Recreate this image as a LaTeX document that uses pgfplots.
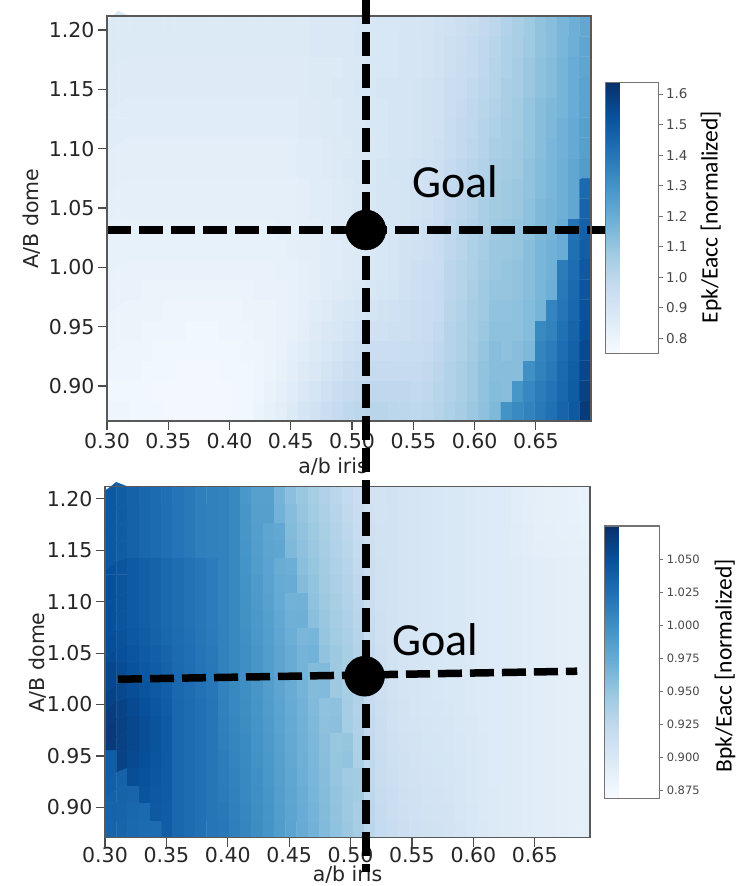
\documentclass[border=0pt]{standalone}
\usepackage{pgfplots}
\usepackage{pgfplotstable}
\usepackage{fontspec}
\setmainfont{DejaVu Sans}
\newfontfamily\goalfont{Carlito}
\pgfplotsset{compat=1.18}
\pgfplotsset{colormap={blues}{rgb255=(247,251,255) rgb255=(222,235,247) rgb255=(198,219,239) rgb255=(158,202,225) rgb255=(107,174,214) rgb255=(66,146,198) rgb255=(33,113,181) rgb255=(8,81,156) rgb255=(8,48,107)}}

% Epk/Eacc on a 43 x 20 grid (a/b iris across, A/B dome up), bottom row first
\pgfplotstableread[row sep=\\]{
v\\
0.79\\0.79\\0.78\\0.78\\0.78\\0.77\\0.77\\0.77\\0.77\\0.77\\0.77\\0.78\\0.78\\0.80\\0.82\\0.84\\0.87\\0.90\\0.92\\0.95\\0.97\\0.99\\1.00\\1.01\\1.01\\1.00\\1.00\\0.99\\1.00\\1.02\\1.04\\1.06\\1.09\\1.12\\1.15\\1.30\\1.33\\1.36\\1.39\\1.42\\1.46\\1.50\\1.60\\
0.78\\0.78\\0.78\\0.78\\0.77\\0.77\\0.77\\0.77\\0.77\\0.77\\0.77\\0.78\\0.78\\0.79\\0.81\\0.83\\0.85\\0.88\\0.90\\0.93\\0.95\\0.97\\0.98\\0.99\\0.99\\0.99\\0.99\\0.98\\0.99\\1.01\\1.03\\1.05\\1.08\\1.11\\1.14\\1.13\\1.29\\1.34\\1.38\\1.41\\1.45\\1.49\\1.58\\
0.79\\0.79\\0.79\\0.78\\0.78\\0.78\\0.77\\0.77\\0.77\\0.77\\0.78\\0.78\\0.78\\0.79\\0.80\\0.82\\0.84\\0.86\\0.88\\0.91\\0.93\\0.95\\0.96\\0.97\\0.97\\0.97\\0.97\\0.97\\0.98\\1.00\\1.03\\1.05\\1.08\\1.11\\1.13\\1.13\\1.13\\1.31\\1.36\\1.39\\1.44\\1.48\\1.56\\
0.79\\0.79\\0.79\\0.79\\0.78\\0.78\\0.78\\0.78\\0.78\\0.78\\0.78\\0.78\\0.79\\0.79\\0.80\\0.81\\0.83\\0.85\\0.87\\0.89\\0.91\\0.93\\0.94\\0.95\\0.95\\0.95\\0.96\\0.96\\0.97\\0.99\\1.02\\1.04\\1.07\\1.10\\1.13\\1.12\\1.13\\1.15\\1.35\\1.38\\1.43\\1.47\\1.55\\
0.80\\0.80\\0.80\\0.79\\0.79\\0.79\\0.79\\0.78\\0.78\\0.78\\0.79\\0.79\\0.79\\0.80\\0.80\\0.81\\0.82\\0.84\\0.86\\0.88\\0.89\\0.91\\0.92\\0.93\\0.93\\0.94\\0.94\\0.95\\0.96\\0.98\\1.02\\1.04\\1.06\\1.09\\1.12\\1.12\\1.12\\1.14\\1.33\\1.36\\1.42\\1.46\\1.53\\
0.80\\0.80\\0.80\\0.80\\0.80\\0.79\\0.79\\0.79\\0.79\\0.79\\0.79\\0.79\\0.80\\0.80\\0.80\\0.81\\0.82\\0.83\\0.85\\0.86\\0.88\\0.89\\0.90\\0.91\\0.92\\0.93\\0.94\\0.95\\0.96\\0.97\\1.01\\1.03\\1.06\\1.08\\1.11\\1.11\\1.12\\1.14\\1.17\\1.35\\1.40\\1.45\\1.52\\
0.81\\0.81\\0.81\\0.80\\0.80\\0.80\\0.80\\0.80\\0.80\\0.80\\0.80\\0.80\\0.80\\0.81\\0.81\\0.81\\0.82\\0.83\\0.84\\0.85\\0.86\\0.87\\0.88\\0.89\\0.90\\0.91\\0.93\\0.94\\0.95\\0.97\\1.00\\1.02\\1.05\\1.08\\1.10\\1.10\\1.11\\1.13\\1.16\\1.19\\1.39\\1.44\\1.51\\
0.81\\0.81\\0.81\\0.81\\0.81\\0.81\\0.81\\0.81\\0.81\\0.81\\0.81\\0.81\\0.81\\0.81\\0.81\\0.82\\0.82\\0.83\\0.84\\0.85\\0.85\\0.86\\0.87\\0.88\\0.89\\0.90\\0.92\\0.94\\0.95\\0.96\\1.00\\1.02\\1.04\\1.07\\1.09\\1.10\\1.11\\1.13\\1.16\\1.18\\1.38\\1.43\\1.50\\
0.82\\0.82\\0.82\\0.82\\0.82\\0.82\\0.82\\0.82\\0.82\\0.82\\0.82\\0.82\\0.82\\0.82\\0.82\\0.82\\0.83\\0.84\\0.84\\0.85\\0.85\\0.86\\0.87\\0.88\\0.89\\0.90\\0.92\\0.93\\0.94\\0.96\\0.99\\1.01\\1.04\\1.06\\1.09\\1.09\\1.10\\1.13\\1.16\\1.18\\1.20\\1.42\\1.48\\
0.82\\0.82\\0.82\\0.82\\0.82\\0.82\\0.82\\0.82\\0.82\\0.82\\0.82\\0.82\\0.82\\0.82\\0.82\\0.83\\0.83\\0.84\\0.84\\0.85\\0.86\\0.86\\0.87\\0.88\\0.89\\0.90\\0.91\\0.93\\0.94\\0.95\\0.99\\1.01\\1.03\\1.05\\1.08\\1.09\\1.10\\1.12\\1.15\\1.17\\1.20\\1.41\\1.47\\
0.83\\0.83\\0.83\\0.83\\0.83\\0.83\\0.83\\0.83\\0.83\\0.83\\0.83\\0.83\\0.83\\0.83\\0.83\\0.83\\0.83\\0.84\\0.85\\0.85\\0.86\\0.87\\0.88\\0.89\\0.90\\0.90\\0.91\\0.92\\0.93\\0.95\\0.98\\1.00\\1.02\\1.05\\1.07\\1.08\\1.09\\1.12\\1.15\\1.17\\1.19\\1.22\\1.46\\
0.83\\0.83\\0.83\\0.83\\0.83\\0.83\\0.83\\0.83\\0.83\\0.83\\0.83\\0.83\\0.83\\0.83\\0.83\\0.83\\0.83\\0.84\\0.85\\0.85\\0.86\\0.87\\0.88\\0.89\\0.90\\0.90\\0.91\\0.92\\0.93\\0.94\\0.98\\0.99\\1.02\\1.04\\1.06\\1.08\\1.09\\1.11\\1.14\\1.16\\1.19\\1.22\\1.44\\
0.84\\0.84\\0.84\\0.84\\0.84\\0.84\\0.84\\0.84\\0.84\\0.84\\0.84\\0.84\\0.84\\0.84\\0.84\\0.84\\0.84\\0.85\\0.85\\0.86\\0.87\\0.88\\0.88\\0.89\\0.90\\0.91\\0.91\\0.92\\0.93\\0.94\\0.97\\0.99\\1.01\\1.03\\1.06\\1.07\\1.08\\1.11\\1.14\\1.16\\1.19\\1.22\\1.26\\
0.84\\0.84\\0.84\\0.84\\0.84\\0.84\\0.84\\0.84\\0.84\\0.84\\0.84\\0.84\\0.84\\0.84\\0.84\\0.84\\0.84\\0.85\\0.85\\0.86\\0.87\\0.87\\0.88\\0.88\\0.89\\0.90\\0.90\\0.91\\0.92\\0.94\\0.96\\0.98\\1.00\\1.02\\1.05\\1.06\\1.08\\1.10\\1.13\\1.16\\1.18\\1.21\\1.25\\
0.85\\0.85\\0.85\\0.85\\0.85\\0.85\\0.85\\0.85\\0.85\\0.85\\0.85\\0.85\\0.85\\0.85\\0.85\\0.85\\0.85\\0.86\\0.86\\0.87\\0.87\\0.88\\0.88\\0.89\\0.89\\0.90\\0.90\\0.91\\0.92\\0.93\\0.96\\0.98\\0.99\\1.02\\1.04\\1.06\\1.07\\1.10\\1.13\\1.15\\1.18\\1.21\\1.25\\
0.85\\0.85\\0.85\\0.85\\0.85\\0.85\\0.85\\0.85\\0.85\\0.85\\0.85\\0.85\\0.85\\0.85\\0.85\\0.85\\0.85\\0.86\\0.86\\0.87\\0.87\\0.88\\0.88\\0.89\\0.89\\0.90\\0.90\\0.91\\0.92\\0.93\\0.95\\0.97\\0.99\\1.01\\1.03\\1.05\\1.07\\1.10\\1.13\\1.15\\1.17\\1.20\\1.24\\
0.86\\0.86\\0.86\\0.86\\0.86\\0.86\\0.86\\0.86\\0.86\\0.86\\0.86\\0.86\\0.86\\0.86\\0.86\\0.86\\0.86\\0.86\\0.87\\0.87\\0.88\\0.88\\0.89\\0.89\\0.90\\0.90\\0.90\\0.91\\0.92\\0.93\\0.95\\0.96\\0.98\\1.00\\1.02\\1.05\\1.06\\1.09\\1.12\\1.14\\1.17\\1.20\\1.24\\
0.86\\0.86\\0.86\\0.86\\0.86\\0.86\\0.86\\0.86\\0.86\\0.86\\0.86\\0.86\\0.86\\0.86\\0.86\\0.86\\0.86\\0.86\\0.87\\0.87\\0.87\\0.88\\0.88\\0.89\\0.89\\0.89\\0.90\\0.90\\0.91\\0.92\\0.94\\0.96\\0.97\\0.99\\1.02\\1.04\\1.06\\1.09\\1.12\\1.14\\1.17\\1.20\\1.23\\
0.87\\0.87\\0.87\\0.87\\0.87\\0.87\\0.87\\0.87\\0.87\\0.87\\0.87\\0.87\\0.87\\0.87\\0.87\\0.87\\0.87\\0.87\\0.88\\0.88\\0.88\\0.88\\0.89\\0.89\\0.89\\0.89\\0.90\\0.90\\0.91\\0.92\\0.94\\0.95\\0.97\\0.99\\1.01\\1.04\\1.05\\1.08\\1.11\\1.13\\1.16\\1.19\\1.23\\
0.87\\0.87\\0.87\\0.87\\0.87\\0.87\\0.87\\0.87\\0.87\\0.87\\0.87\\0.87\\0.87\\0.87\\0.87\\0.87\\0.87\\0.87\\0.88\\0.88\\0.88\\0.88\\0.89\\0.89\\0.89\\0.89\\0.90\\0.90\\0.91\\0.92\\0.93\\0.945\\0.96\\0.98\\1.00\\1.03\\1.05\\1.08\\1.11\\1.13\\1.16\\1.19\\1.22\\
}\epkdata

% Bpk/Eacc on the same grid
\pgfplotstableread[row sep=\\]{
v\\
1.034\\1.033\\1.031\\1.029\\1.028\\1.040\\1.032\\1.028\\1.024\\1.020\\1.018\\1.013\\1.008\\1.002\\0.996\\0.989\\0.982\\0.975\\0.968\\0.961\\0.954\\0.948\\0.941\\0.928\\0.921\\0.917\\0.914\\0.912\\0.910\\0.909\\0.908\\0.904\\0.901\\0.899\\0.897\\0.895\\0.894\\0.893\\0.892\\0.891\\0.890\\0.889\\0.888\\
1.035\\1.034\\1.032\\1.030\\1.043\\1.040\\1.032\\1.028\\1.024\\1.020\\1.017\\1.012\\1.007\\1.001\\0.995\\0.988\\0.981\\0.974\\0.967\\0.960\\0.953\\0.947\\0.940\\0.927\\0.920\\0.916\\0.913\\0.911\\0.909\\0.908\\0.907\\0.903\\0.901\\0.898\\0.897\\0.895\\0.894\\0.893\\0.892\\0.891\\0.890\\0.889\\0.888\\
1.036\\1.035\\1.033\\1.047\\1.044\\1.041\\1.032\\1.028\\1.024\\1.020\\1.016\\1.011\\1.006\\1.000\\0.994\\0.987\\0.980\\0.973\\0.966\\0.959\\0.952\\0.946\\0.944\\0.926\\0.919\\0.915\\0.912\\0.910\\0.908\\0.907\\0.906\\0.903\\0.900\\0.898\\0.897\\0.895\\0.894\\0.893\\0.892\\0.891\\0.890\\0.889\\0.888\\
1.038\\1.036\\1.052\\1.049\\1.045\\1.041\\1.032\\1.028\\1.024\\1.020\\1.015\\1.010\\1.005\\0.999\\0.993\\0.986\\0.979\\0.972\\0.965\\0.958\\0.951\\0.945\\0.943\\0.925\\0.918\\0.914\\0.911\\0.909\\0.907\\0.906\\0.905\\0.902\\0.900\\0.898\\0.896\\0.895\\0.894\\0.893\\0.892\\0.891\\0.890\\0.889\\0.888\\
1.040\\1.060\\1.055\\1.051\\1.046\\1.042\\1.032\\1.028\\1.024\\1.020\\1.014\\1.009\\1.004\\0.998\\0.992\\0.985\\0.978\\0.971\\0.964\\0.957\\0.950\\0.952\\0.937\\0.924\\0.917\\0.913\\0.910\\0.908\\0.906\\0.905\\0.904\\0.901\\0.900\\0.898\\0.896\\0.895\\0.894\\0.893\\0.892\\0.891\\0.890\\0.889\\0.888\\
1.068\\1.062\\1.057\\1.052\\1.047\\1.042\\1.032\\1.028\\1.024\\1.020\\1.013\\1.008\\1.003\\0.997\\0.991\\0.984\\0.977\\0.970\\0.963\\0.956\\0.949\\0.951\\0.936\\0.923\\0.916\\0.912\\0.909\\0.907\\0.905\\0.904\\0.903\\0.901\\0.899\\0.898\\0.896\\0.895\\0.894\\0.893\\0.892\\0.891\\0.890\\0.889\\0.888\\
1.068\\1.062\\1.057\\1.052\\1.047\\1.042\\1.032\\1.028\\1.024\\1.020\\1.012\\1.007\\1.002\\0.996\\0.990\\0.983\\0.976\\0.969\\0.962\\0.955\\0.956\\0.942\\0.935\\0.922\\0.915\\0.911\\0.908\\0.906\\0.904\\0.903\\0.902\\0.900\\0.899\\0.897\\0.896\\0.895\\0.894\\0.893\\0.892\\0.891\\0.890\\0.889\\0.888\\
1.066\\1.060\\1.055\\1.050\\1.045\\1.040\\1.032\\1.028\\1.024\\1.020\\1.011\\1.006\\1.001\\0.995\\0.989\\0.982\\0.975\\0.968\\0.961\\0.954\\0.955\\0.941\\0.934\\0.921\\0.914\\0.910\\0.907\\0.905\\0.903\\0.902\\0.901\\0.900\\0.898\\0.897\\0.896\\0.895\\0.894\\0.893\\0.892\\0.891\\0.890\\0.889\\0.888\\
1.062\\1.056\\1.052\\1.047\\1.043\\1.038\\1.031\\1.027\\1.023\\1.019\\1.010\\1.005\\1.000\\0.994\\0.988\\0.981\\0.974\\0.967\\0.960\\0.961\\0.946\\0.940\\0.933\\0.920\\0.913\\0.909\\0.906\\0.904\\0.902\\0.901\\0.900\\0.899\\0.898\\0.897\\0.896\\0.895\\0.894\\0.893\\0.892\\0.891\\0.890\\0.889\\0.888\\
1.058\\1.053\\1.049\\1.044\\1.040\\1.036\\1.030\\1.026\\1.022\\1.018\\1.010\\1.005\\1.000\\0.994\\0.988\\0.981\\0.974\\0.967\\0.960\\0.961\\0.946\\0.940\\0.933\\0.920\\0.913\\0.909\\0.906\\0.904\\0.902\\0.901\\0.900\\0.899\\0.898\\0.897\\0.896\\0.895\\0.894\\0.893\\0.892\\0.891\\0.890\\0.889\\0.888\\
1.054\\1.050\\1.046\\1.042\\1.038\\1.034\\1.029\\1.025\\1.021\\1.017\\1.010\\1.005\\1.000\\0.994\\0.988\\0.981\\0.974\\0.967\\0.968\\0.953\\0.946\\0.940\\0.933\\0.920\\0.913\\0.909\\0.906\\0.904\\0.902\\0.901\\0.900\\0.899\\0.898\\0.897\\0.896\\0.895\\0.894\\0.893\\0.892\\0.891\\0.890\\0.889\\0.888\\
1.052\\1.048\\1.044\\1.040\\1.036\\1.032\\1.028\\1.024\\1.020\\1.016\\1.010\\1.005\\0.999\\0.993\\0.987\\0.979\\0.972\\0.965\\0.966\\0.951\\0.944\\0.938\\0.931\\0.919\\0.912\\0.909\\0.906\\0.904\\0.902\\0.901\\0.900\\0.899\\0.898\\0.897\\0.896\\0.895\\0.894\\0.893\\0.892\\0.891\\0.890\\0.889\\0.888\\
1.050\\1.046\\1.042\\1.038\\1.035\\1.031\\1.027\\1.023\\1.019\\1.015\\1.010\\1.005\\0.998\\0.992\\0.986\\0.978\\0.970\\0.971\\0.956\\0.949\\0.942\\0.936\\0.929\\0.918\\0.912\\0.909\\0.906\\0.904\\0.902\\0.901\\0.900\\0.899\\0.898\\0.897\\0.896\\0.895\\0.894\\0.893\\0.892\\0.891\\0.890\\0.889\\0.888\\
1.050\\1.046\\1.042\\1.038\\1.035\\1.031\\1.027\\1.023\\1.019\\1.015\\1.010\\1.005\\0.998\\0.991\\0.984\\0.976\\0.968\\0.969\\0.954\\0.947\\0.940\\0.934\\0.927\\0.916\\0.911\\0.909\\0.906\\0.904\\0.902\\0.901\\0.900\\0.899\\0.898\\0.897\\0.896\\0.895\\0.894\\0.893\\0.892\\0.891\\0.890\\0.889\\0.888\\
1.050\\1.046\\1.042\\1.038\\1.035\\1.031\\1.027\\1.023\\1.019\\1.015\\1.010\\1.005\\0.997\\0.990\\0.983\\0.975\\0.974\\0.959\\0.952\\0.945\\0.938\\0.932\\0.925\\0.915\\0.911\\0.909\\0.906\\0.904\\0.902\\0.901\\0.900\\0.899\\0.898\\0.897\\0.896\\0.895\\0.894\\0.893\\0.892\\0.891\\0.890\\0.889\\0.888\\
1.050\\1.046\\1.042\\1.038\\1.035\\1.031\\1.027\\1.023\\1.019\\1.015\\1.010\\1.005\\0.996\\0.989\\0.982\\0.973\\0.972\\0.957\\0.950\\0.943\\0.936\\0.930\\0.923\\0.914\\0.910\\0.909\\0.906\\0.904\\0.902\\0.901\\0.900\\0.899\\0.898\\0.897\\0.896\\0.895\\0.894\\0.893\\0.892\\0.891\\0.890\\0.889\\0.888\\
1.044\\1.040\\1.036\\1.032\\1.029\\1.025\\1.021\\1.017\\1.013\\1.011\\1.010\\1.005\\0.995\\0.988\\0.981\\0.979\\0.962\\0.955\\0.948\\0.941\\0.934\\0.928\\0.921\\0.913\\0.909\\0.909\\0.906\\0.904\\0.902\\0.901\\0.900\\0.899\\0.898\\0.897\\0.896\\0.895\\0.893\\0.891\\0.890\\0.889\\0.888\\0.887\\0.886\\
1.044\\1.040\\1.036\\1.032\\1.029\\1.025\\1.021\\1.017\\1.013\\1.011\\1.010\\1.005\\0.994\\0.987\\0.980\\0.978\\0.960\\0.953\\0.946\\0.939\\0.932\\0.926\\0.919\\0.912\\0.909\\0.909\\0.906\\0.904\\0.902\\0.901\\0.900\\0.899\\0.898\\0.897\\0.896\\0.895\\0.893\\0.891\\0.889\\0.888\\0.887\\0.886\\0.885\\
1.044\\1.040\\1.036\\1.032\\1.029\\1.025\\1.021\\1.017\\1.013\\1.011\\1.010\\1.005\\0.994\\0.986\\0.986\\0.968\\0.958\\0.951\\0.944\\0.937\\0.930\\0.924\\0.917\\0.910\\0.908\\0.909\\0.906\\0.904\\0.902\\0.901\\0.900\\0.899\\0.898\\0.897\\0.896\\0.895\\0.892\\0.890\\0.889\\0.887\\0.886\\0.885\\0.884\\
1.044\\1.040\\1.036\\1.032\\1.029\\1.025\\1.021\\1.017\\1.013\\1.011\\1.010\\1.005\\0.993\\0.985\\0.985\\0.967\\0.956\\0.949\\0.942\\0.935\\0.928\\0.922\\0.915\\0.909\\0.908\\0.909\\0.906\\0.904\\0.902\\0.901\\0.900\\0.899\\0.898\\0.897\\0.896\\0.895\\0.892\\0.890\\0.888\\0.887\\0.886\\0.885\\0.883\\
}\bpkdata

\tikzset{
  guide/.style={draw=black, line width=7.5pt, dash pattern=on 24pt off 8pt},
}
\pgfplotsset{
  heat/.style={
    scale only axis, anchor=north west,
    xmin=0.30, xmax=0.695, ymin=0.8705, ymax=1.2118,
    xtick={0.30,0.35,0.40,0.45,0.50,0.55,0.60,0.65},
    ytick={0.90,0.95,1.00,1.05,1.10,1.15,1.20},
    xticklabel style={/pgf/number format/fixed, /pgf/number format/fixed zerofill, /pgf/number format/precision=2},
    yticklabel style={/pgf/number format/fixed, /pgf/number format/fixed zerofill, /pgf/number format/precision=2},
    /pgf/number format/assume math mode=true,
    tick label style={font=\fontsize{20.5}{24}\selectfont, text=black!85},
    label style={font=\fontsize{20.5}{24}\selectfont, text=black!85},
    tick pos=left, tick align=outside, major tick length=9pt,
    major tick style={draw=black!70, line width=1.2pt},
    axis line style={draw=black!65, line width=1.3pt},
    xlabel={a/b iris}, ylabel={A/B dome},
    colormap name=blues, clip=false, axis on top,
  },
  cells/.style={matrix plot*, mesh/cols=43, mesh/rows=20, point meta=explicit},
  guideline/.style={sharp plot, no marks, guide, mesh/check=false, point meta=none},
  target/.style={only marks, mark=*, mark size=20pt, black, mesh/check=false, point meta=none},
  cbar/.style={scale only axis, anchor=north west,
    ytick pos=right, yticklabel pos=right,
    major tick length=4pt, tick align=outside,
    major tick style={draw=black!55, line width=0.8pt},
    axis line style={draw=black!55, line width=1.1pt}},
}
\newcommand{\gridx}{0.30+0.0091860*(mod(\coordindex,43)+0.5)}
\newcommand{\gridy}{0.8705+0.017065*(floor(\coordindex/43)+0.5)}

\begin{document}
\begin{tikzpicture}
\useasboundingbox (0,0) rectangle (744pt,-886pt);

% Epk/Eacc map
\begin{axis}[heat, at={(107pt,-16pt)}, width=484pt, height=405pt,
  xlabel style={at={(axis description cs:0.467,-0.1284)}, anchor=base},
  ylabel style={at={(axis description cs:-0.155,0.5)}, anchor=center},
  point meta min=0.75, point meta max=1.637]
\addplot[cells] table[x index=0, y index=0, x expr=\gridx, y expr=\gridy, meta=v] {\epkdata};
\addplot[guideline] coordinates {(0.30,1.0315) (0.712,1.0315)};
\addplot[target] coordinates {(0.5113,1.0315)};
\end{axis}

% Bpk/Eacc map
\begin{axis}[heat, at={(105pt,-486.7pt)}, width=485pt, height=351pt,
  xticklabel style={/tikz/yshift=3pt},
  xlabel style={at={(axis description cs:0.5,-0.124)}, anchor=base},
  ylabel style={at={(axis description cs:-0.139,0.5)}, anchor=center},
  point meta min=0.869, point meta max=1.075]
\addplot[cells] table[x index=0, y index=0, x expr=\gridx, y expr=\gridy, meta=v] {\bpkdata};
\addplot[guideline] coordinates {(0.3106,1.0246) (0.6846,1.0324)};
\addplot[target] coordinates {(0.5114,1.0275)};
\end{axis}

% colour scales
\pgfplotscolorbardrawstandalone[colormap name=blues,
  point meta min=0.75, point meta max=1.637,
  colorbar style={cbar, at={(597pt,-82.7pt)}, width=53pt, height=271pt,
    ytick={0.8,0.9,1.0,1.1,1.2,1.3,1.4,1.5,1.6},
    yticklabel style={font=\fontsize{13.5}{14}\selectfont, text=black!72,
      /pgf/number format/fixed, /pgf/number format/fixed zerofill,
      /pgf/number format/precision=1, /pgf/number format/assume math mode=true}}]
\pgfplotscolorbardrawstandalone[colormap name=blues,
  point meta min=0.869, point meta max=1.075,
  colorbar style={cbar, at={(596pt,-526pt)}, width=54.7pt, height=272.3pt,
    ytick={0.875,0.900,0.925,0.950,0.975,1.000,1.025,1.050},
    yticklabel style={font=\fontsize{11.5}{13}\selectfont, text=black!72,
      /pgf/number format/fixed, /pgf/number format/fixed zerofill,
      /pgf/number format/precision=3, /pgf/number format/assume math mode=true}}]

% design target: a/b iris crossing both maps
\draw[guide] (366pt,0pt) -- (366pt,-872pt);

\node[anchor=base west, inner sep=0pt, font=\goalfont\fontsize{46}{50}\selectfont] at (412pt,-197pt) {Goal};
\node[anchor=base west, inner sep=0pt, font=\goalfont\fontsize{46}{50}\selectfont] at (392pt,-655pt) {Goal};
\node[rotate=90, font=\goalfont\fontsize{23.5}{26}\selectfont] at (711pt,-217pt) {Epk/Eacc [normalized]};
\node[rotate=90, font=\goalfont\fontsize{23.5}{26}\selectfont] at (725pt,-666pt) {Bpk/Eacc [normalized]};
\end{tikzpicture}
\end{document}
